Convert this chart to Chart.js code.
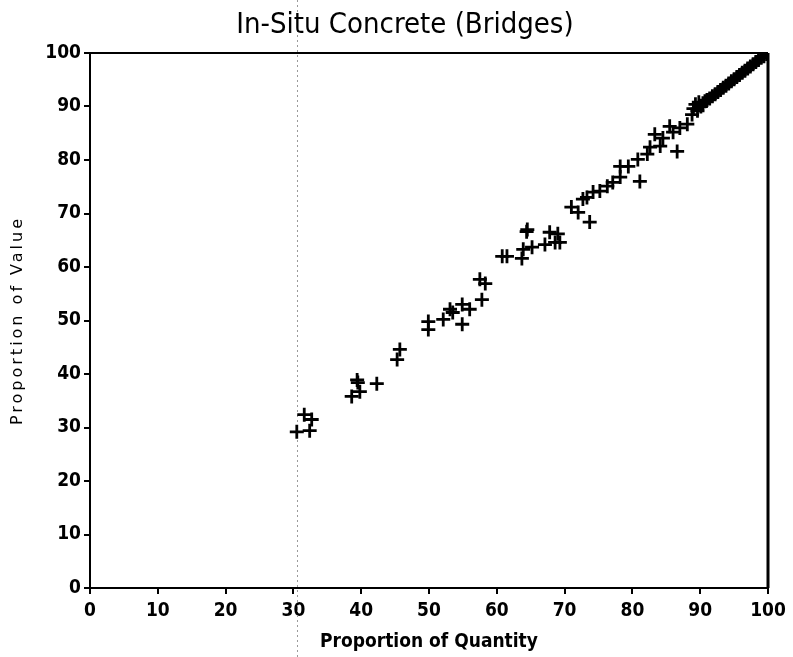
<!DOCTYPE html>
<html>
<head>
<meta charset="utf-8">
<script src="https://cdn.jsdelivr.net/npm/chart.js@4.4.1/dist/chart.umd.min.js"></script>
<style>
html,body{margin:0;padding:0;background:#fff;}
#wrap{width:793px;height:657px;position:relative;}
</style>
</head>
<body>
<div id="wrap"><canvas id="c" width="793" height="657"></canvas></div>
<script>
const chartTitle = 'In-Situ Concrete (Bridges)';
const xAxisTitle = 'Proportion of Quantity';
const yAxisTitle = 'Proportion of Value';
const axisMin = 0;
const axisMax = 100;
const tickStep = 10;

// Proportion of Quantity (%)
const quantityPct = [
  30.5, 32.4, 31.6, 32.7,
  38.6, 39.8, 39.5, 39.4, 42.3,
  45.3, 45.7,
  49.9, 49.9, 52.1, 53.5, 53.1, 54.9, 56.0, 54.9, 57.8, 57.5, 58.3,
  60.8, 61.5, 63.7, 63.9, 65.2, 67.1, 68.6, 69.3, 64.5, 64.4, 67.8, 69.0,
  71.0, 72.0, 72.7, 73.3, 74.2, 75.2, 76.3, 77.1, 73.7, 78.2, 78.2, 79.4, 80.8, 81.1,
  82.2, 82.6, 84.1, 86.6, 83.3, 84.5, 85.5, 86.0, 87.0, 88.1,
  88.8, 89.0, 89.3, 89.6, 89.8, 90.1, 90.4, 90.7, 91.0, 91.4, 91.8, 92.2, 92.6,
  93.0, 93.4, 93.8, 94.2, 94.6, 95.0, 95.4, 95.8, 96.2, 96.6, 97.0, 97.4, 97.8,
  98.2, 98.6, 99.0, 99.4, 99.8, 100.0
];
// Proportion of Value (%)
const valuePct = [
  29.2, 29.4, 32.4, 31.5,
  35.8, 36.7, 38.4, 38.9, 38.2,
  42.7, 44.6,
  48.3, 49.8, 50.2, 51.5, 52.1, 53.0, 52.1, 49.3, 53.9, 57.7, 56.9,
  62.0, 62.0, 61.6, 63.3, 63.7, 64.2, 64.6, 64.6, 67.0, 66.6, 66.5, 66.2,
  71.2, 70.2, 72.7, 73.0, 74.0, 74.2, 75.1, 75.8, 68.4, 76.8, 78.8, 78.8, 80.1, 76.0,
  81.1, 82.4, 82.6, 81.6, 84.8, 84.1, 86.3, 85.2, 86.0, 86.7,
  88.5, 89.6, 90.4, 89.2, 90.8, 90.0, 90.6, 91.0, 91.2, 91.5, 91.9, 92.3, 92.7,
  93.1, 93.5, 93.9, 94.3, 94.7, 95.1, 95.5, 95.9, 96.3, 96.7, 97.1, 97.5, 97.9,
  98.3, 98.7, 99.1, 99.4, 99.8, 100.0
];
// vertical scan crease in the source image, at this x value
const creaseX = [30.6];

const points = quantityPct.map((q, i) => ({x: q, y: valuePct[i]}));

const condensed = "'DejaVu Sans Condensed','DejaVu Sans',sans-serif";
const tickFont = {family: condensed, size: 19, weight: 'bold'};

const framePlugin = {
  id: 'frame',
  beforeDatasetsDraw(chart) {
    const {ctx, chartArea: a, scales} = chart;
    ctx.save();
    // crease
    ctx.strokeStyle = '#9a9a9a';
    ctx.lineWidth = 1;
    ctx.setLineDash([2, 3]);
    creaseX.forEach(v => {
      const px = Math.round(scales.x.getPixelForValue(v)) + 0.5;
      ctx.beginPath();
      ctx.moveTo(px, 0);
      ctx.lineTo(px, chart.height);
      ctx.stroke();
    });
    ctx.setLineDash([]);
    ctx.strokeStyle = '#000';
    ctx.lineWidth = 2;
    ctx.beginPath();
    ctx.moveTo(a.left, a.top);
    ctx.lineTo(a.right, a.top);
    ctx.stroke();
    ctx.lineWidth = 3;
    ctx.beginPath();
    ctx.moveTo(a.right, a.top);
    ctx.lineTo(a.right, a.bottom);
    ctx.stroke();
    ctx.restore();
  },
  afterDraw(chart) {
    const {ctx, chartArea: a} = chart;
    ctx.save();
    ctx.fillStyle = '#000';
    // title (sits slightly left of the plot centre in the source)
    ctx.font = "normal 29px " + condensed;
    ctx.textAlign = 'center';
    ctx.textBaseline = 'middle';
    ctx.fillText(chartTitle, (a.left + a.right) / 2 - 24, 25);
    // rotated y title with letter spacing
    ctx.translate(18, (a.top + a.bottom) / 2);
    ctx.rotate(-Math.PI / 2);
    try { ctx.letterSpacing = '3px'; } catch (e) {}
    ctx.font = "normal 16px 'DejaVu Sans',sans-serif";
    ctx.fillText(yAxisTitle, 0, 0);
    ctx.restore();
  }
};

new Chart(document.getElementById('c'), {
  type: 'scatter',
  data: {
    datasets: [{
      data: points,
      pointStyle: 'cross',
      pointRadius: 7,
      pointHoverRadius: 7,
      pointBorderWidth: 2.8,
      borderColor: '#000',
      backgroundColor: '#000'
    }]
  },
  options: {
    responsive: false,
    animation: false,
    events: [],
    layout: {padding: {left: 0, right: 25, top: 53, bottom: 0}},
    plugins: {
      legend: {display: false},
      tooltip: {enabled: false},
      title: {display: false}
    },
    scales: {
      x: {
        type: 'linear',
        min: axisMin, max: axisMax,
        afterFit(s) { s.height = 69; },
        ticks: {stepSize: tickStep, color: '#000', font: tickFont, padding: 6, maxRotation: 0},
        grid: {display: true, drawOnChartArea: false, drawTicks: true, tickLength: 6, color: '#000', lineWidth: 2},
        border: {display: true, color: '#000', width: 2},
        title: {display: true, text: xAxisTitle, color: '#000',
          font: {family: condensed, size: 19, weight: 'bold'},
          padding: {top: 2, bottom: 4}}
      },
      y: {
        type: 'linear',
        min: axisMin, max: axisMax,
        afterFit(s) { s.width = 90; },
        ticks: {stepSize: tickStep, color: '#000', font: tickFont, padding: 3},
        grid: {display: true, drawOnChartArea: false, drawTicks: true, tickLength: 6, color: '#000', lineWidth: 2},
        border: {display: true, color: '#000', width: 2},
        title: {display: false}
      }
    }
  },
  plugins: [framePlugin]
});
</script>
</body>
</html>
